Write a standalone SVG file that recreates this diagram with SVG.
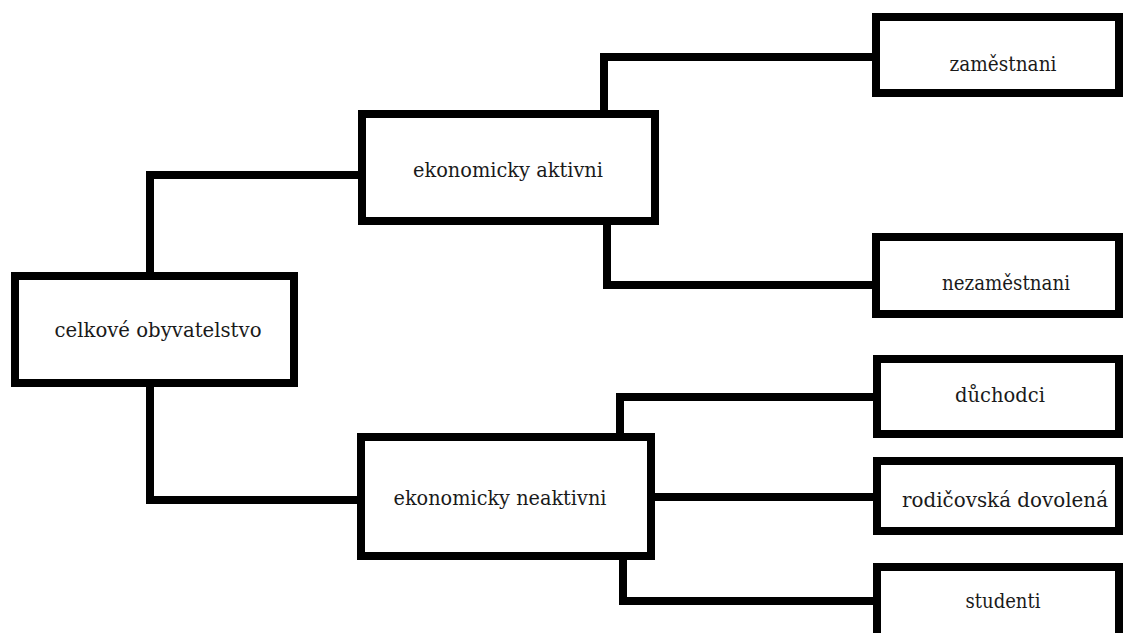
<svg xmlns="http://www.w3.org/2000/svg" width="1123" height="633" viewBox="0 0 1123 633">
<style>
.box{fill:#fff;stroke:#000;stroke-width:8}
.lbl{font-family:"DejaVu Serif","Liberation Serif",serif;font-size:20px;fill:#1a1a1a;text-anchor:middle}
.con{fill:none;stroke:#000;stroke-width:8;stroke-linejoin:miter;stroke-linecap:square}
</style>
<rect width="1123" height="633" fill="#fff"/>
<g id="connectors">
<path class="con" d="M150 276 V175 H362"/>
<path class="con" d="M150 383 V500 H361"/>
<path class="con" d="M604 114 V57 H876"/>
<path class="con" d="M607 221 V285 H876"/>
<path class="con" d="M620 437 V397 H876"/>
<path class="con" d="M651 497 H876"/>
<path class="con" d="M623 556 V601 H876"/>
</g>
<g id="celkove">
<rect class="box" x="15" y="276" width="279" height="107"/>
<text class="lbl" x="158" y="337" textLength="207" lengthAdjust="spacingAndGlyphs">celkové obyvatelstvo</text>
</g>
<g id="aktivni">
<rect class="box" x="362" y="114" width="293" height="107"/>
<text class="lbl" x="508" y="177" textLength="190" lengthAdjust="spacingAndGlyphs">ekonomicky aktivni</text>
</g>
<g id="neaktivni">
<rect class="box" x="361" y="437" width="290" height="119"/>
<text class="lbl" x="500" y="505" textLength="213" lengthAdjust="spacingAndGlyphs">ekonomicky neaktivni</text>
</g>
<g id="zamestnani">
<rect class="box" x="876" y="17" width="243" height="76"/>
<text class="lbl" x="1003" y="71" textLength="107" lengthAdjust="spacingAndGlyphs">zaměstnani</text>
</g>
<g id="nezamestnani">
<rect class="box" x="876" y="237" width="243" height="77"/>
<text class="lbl" x="1006" y="290" textLength="128" lengthAdjust="spacingAndGlyphs">nezaměstnani</text>
</g>
<g id="duchodci">
<rect class="box" x="877" y="359" width="242" height="75"/>
<text class="lbl" x="1000" y="402" textLength="90" lengthAdjust="spacingAndGlyphs">důchodci</text>
</g>
<g id="rodicovska">
<rect class="box" x="877" y="461" width="242" height="70"/>
<text class="lbl" x="1005" y="507" textLength="206" lengthAdjust="spacingAndGlyphs">rodičovská dovolená</text>
</g>
<g id="studenti">
<rect class="box" x="877" y="567" width="242" height="70"/>
<text class="lbl" x="1003" y="608" textLength="75" lengthAdjust="spacingAndGlyphs">studenti</text>
</g>
</svg>
